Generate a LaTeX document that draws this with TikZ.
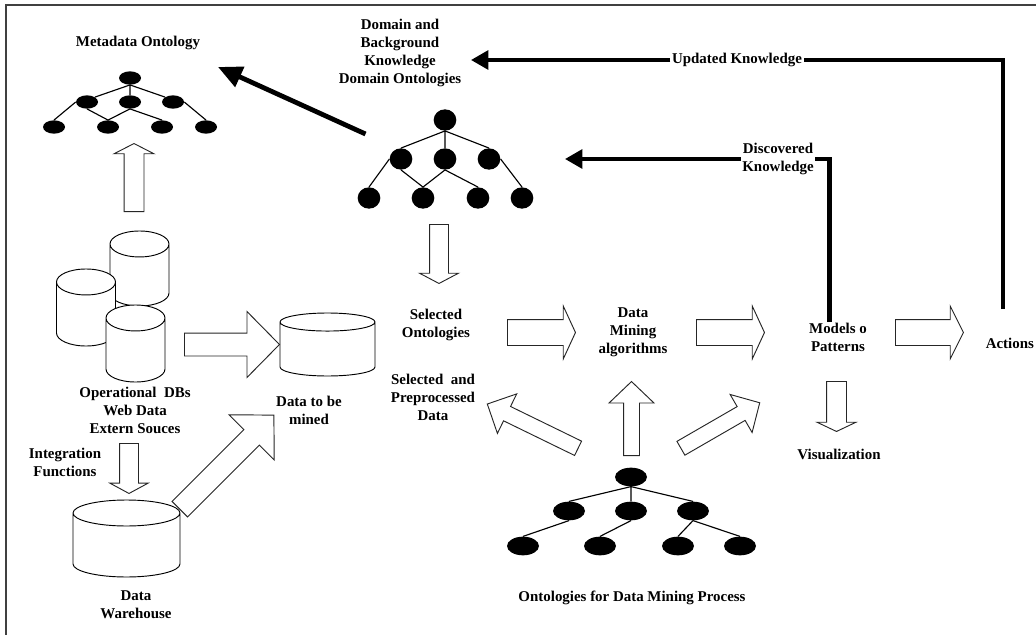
\documentclass[tikz,border=0pt]{standalone}
\usepackage{fontspec}
\setmainfont{Liberation Serif}
\usetikzlibrary{calc, positioning, arrows.meta, shapes.geometric, shapes.arrows}
\tikzset{
    label/.style={font=\fontsize{11.2}{13.5}\selectfont\bfseries, align=center, inner sep=1pt},
    blockarrow/.style n args={4}{single arrow, draw=black!85, line width=0.7pt, fill=white, anchor=tail,
        inner xsep=0pt, inner ysep=#3*0.375pt,
        minimum height=#1*0.75pt, single arrow head extend={(#2-#3)*0.375pt},
        single arrow tip angle={2*atan(#2/2/#4)}, single arrow head indent=0pt},
    heavy/.style={line width=2.9pt, -{Triangle[length=13pt,width=14pt]}},
    heavyline/.style={line width=3pt},
    treeedge/.style={line width=0.85pt},
    dbase/.style n args={3}{cylinder, draw=black, line width=0.7pt, fill=white, shape border rotate=90, anchor=shape center,
        inner ysep=0pt, inner xsep=#1*0.375pt, minimum height=#2*0.75pt, aspect=#3}
}
\begin{document}
\begin{tikzpicture}[x=0.75pt, y=-0.75pt,
        dot/.style={ellipse, fill=black, inner sep=0pt},
        metadot/.style={dot, minimum width=16.5pt, minimum height=10pt},
        domaindot/.style={dot, minimum width=17pt, minimum height=16pt},
        procdot/.style={dot, minimum width=24pt, minimum height=14pt}
    ]
    \useasboundingbox (0,0) rectangle (1036,635);

    % Frame
    \coordinate (frameA) at (6,635);
    \coordinate (frameB) at (6,5);
    \coordinate (frameC) at (1036,5);
    \draw[line width=1.1pt, black!75] (frameA) -- (frameB) -- (frameC);

    % Metadata ontology
    \node[label] (MetaLabel) at (138,43) {Metadata Ontology};
    \node[metadot] (M0) at (130,78) {};
    \node[metadot] (M1) at (87,102) {};
    \node[metadot] (M2) at (130,102) {};
    \node[metadot] (M3) at (173,102) {};
    \node[metadot] (M4) at (54,127) {};
    \node[metadot] (M5) at (108,127) {};
    \node[metadot] (M6) at (162,127) {};
    \node[metadot] (M7) at (206,127) {};
    \draw[treeedge] (M0.south) -- (M1.north east) (M0.south) -- (M2) (M0.south) -- (M3.north west);
    \draw[treeedge] (M1.west) -- (M4.north) (M1.south) -- (M5.north) (M2.south) -- (M5.north);
    \draw[treeedge] (M2.south) -- (M6.north) (M3.east) -- (M7.north);

    % Domain ontologies
    \node[label] (DomainLabel) at (400,53) {Domain and\\Background\\Knowledge\\Domain Ontologies};
    \node[domaindot] (D0) at (445,120) {};
    \node[domaindot] (D1) at (401,159) {};
    \node[domaindot] (D2) at (445,159) {};
    \node[domaindot] (D3) at (489,159) {};
    \node[domaindot] (D4) at (369,198) {};
    \node[domaindot] (D5) at (423,198) {};
    \node[domaindot] (D6) at (478,198) {};
    \node[domaindot] (D7) at (522,198) {};
    \draw[treeedge] (D0.south) -- (D1.north) (D0.south) -- (D2) (D0.south) -- (D3.north);
    \draw[treeedge] (D1.west) -- (D4.north) (D1.south) -- (D5.north) (D2.south) -- (D5.north);
    \draw[treeedge] (D2.south) -- (D6.north) (D3.east) -- (D7.north);

    % Ontologies for the process
    \node[label] (ProcLabel) at (632,598) {Ontologies for Data Mining Process};
    \node[procdot] (P0) at (631,477) {};
    \node[procdot] (P1) at (569,511) {};
    \node[procdot] (P2) at (631,511) {};
    \node[procdot] (P3) at (693,511) {};
    \node[procdot] (P4) at (523,546) {};
    \node[procdot] (P5) at (600,546) {};
    \node[procdot] (P6) at (678,546) {};
    \node[procdot] (P7) at (740,546) {};
    \draw[treeedge] (P0.south) -- (P1.north) (P0.south) -- (P2) (P0.south) -- (P3.north);
    \draw[treeedge] (P1.south) -- (P4.north) (P2.south) -- (P5.north);
    \draw[treeedge] (P3.south) -- (P6.north) (P3.south) -- (P7.north);

    % Databases
    \node[dbase={59}{75}{0.44}] (DBtop) at (139.5,268.5) {};
    \node[dbase={59}{77}{0.44}] (DBleft) at (86,307.5) {};
    \node[dbase={59}{77}{0.44}] (DBfront) at (135.5,343.5) {};
    \node[dbase={95}{63}{0.19}] (Mined) at (327.5,344.5) {};
    \node[dbase={107}{77}{0.243}] (Warehouse) at (126.5,538.5) {};

    % Labels
    \node[label] (OpLabel) at (135,410) {Operational\ \ DBs\\Web Data\\Extern Souces};
    \node[label] (IntLabel) at (65,462) {Integration\\Functions};
    \node[label] (MinedLabel) at (309,410) {Data to be\\mined};
    \node[label] (WareLabel) at (136,605) {Data\\Warehouse};
    \node[label] (SelOnto) at (436,325) {Selected\\Ontologies};
    \node[label] (SelData) at (433,397) {Selected\ \ and\\Preprocessed\\Data};
    \node[label] (Algo) at (633,332) {Data\\Mining\\algorithms};
    \node[label] (Models) at (838,337) {Models o\\Patterns};
    \node[label, anchor=east] (Actions) at (1035.5,343) {Actions};
    \node[label] (Visual) at (839,454) {Visualization};
    \node[label] (Updated) at (737,60) {Updated Knowledge};
    \node[label] (Discovered) at (778,159) {Discovered\\Knowledge};

    % Block arrows
    \node[blockarrow={68}{39}{19}{10}, rotate=90] (ArrMeta) at (134,212) {};
    \node[blockarrow={59}{38}{18}{10}, rotate=-90] (ArrDom) at (439,224) {};
    \node[blockarrow={95}{65}{22}{32}] (ArrDB) at (184,344.5) {};
    \node[blockarrow={50}{37}{18}{10}, rotate=-90] (ArrInt) at (129,443) {};
    \node[blockarrow={133}{63}{21}{31}, rotate=45] (ArrWare) at (179.5,509.5) {};
    \node[blockarrow={68}{52}{25}{12}] (ArrSel) at (507,332.5) {};
    \node[blockarrow={68}{52}{25}{12}] (ArrAlgo) at (696,332.5) {};
    \node[blockarrow={68}{52}{25}{13}] (ArrModels) at (895,332.5) {};
    \node[blockarrow={50}{38}{19}{9}, rotate=-90] (ArrVis) at (836.5,381) {};
    \node[blockarrow={74}{44}{15}{21}, rotate=90] (ArrUp) at (631.5,456) {};
    \node[blockarrow={91}{43}{15}{21}, rotate=30] (ArrRight) at (680.5,448.5) {};
    \node[blockarrow={101}{43}{15}{21.5}, rotate=154] (ArrLeft) at (578.5,448.5) {};

    % Feedback lines
    \coordinate (MetaTip) at (218,67);
    \coordinate (DomTail) at (365.5,134);
    \draw[line width=3.6pt, -{Triangle[length=18pt,width=16pt]}] (DomTail) -- (MetaTip);

    \coordinate (ActTop) at (1003,309);
    \coordinate (UpdTip) at (471,60);
    \draw[heavyline] (ActTop) |- (Updated.east);
    \draw[heavy] (Updated.west) -- (UpdTip);

    \coordinate (ModTop) at (829.5,322);
    \coordinate (DisTip) at (565,159);
    \draw[heavyline, line width=3.4pt] (ModTop) |- (Discovered.east);
    \draw[heavy] (Discovered.west) -- (DisTip);

\end{tikzpicture}
\end{document}
